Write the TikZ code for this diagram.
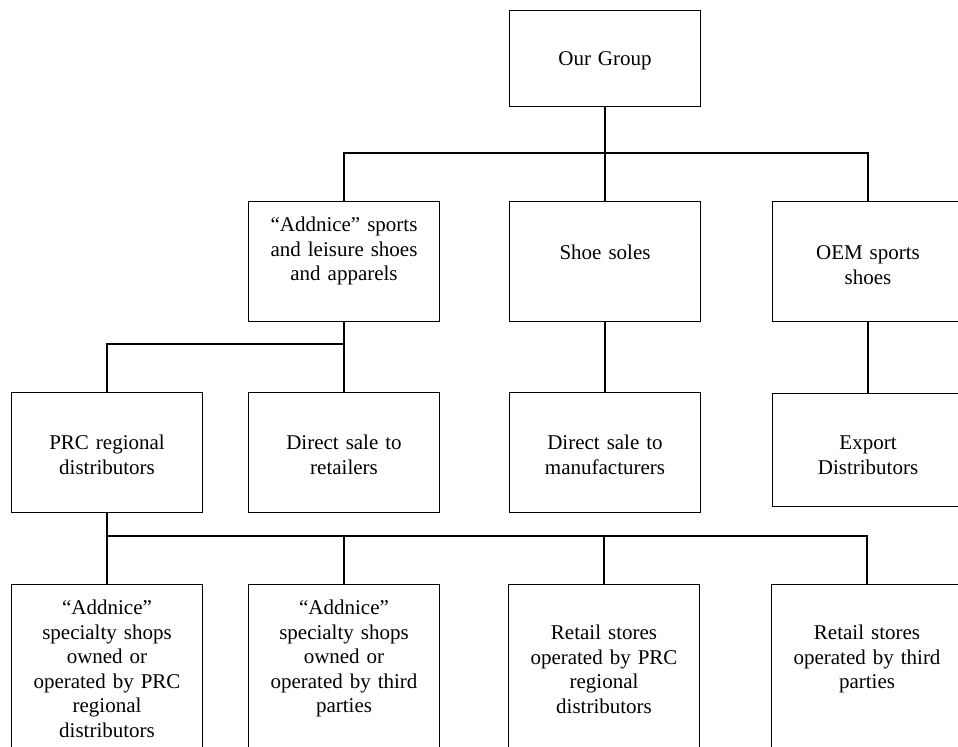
\documentclass[tikz,border=0pt]{standalone}
\usepackage{fontspec}
\setmainfont{Liberation Serif}
\usepackage{tikz}

\begin{document}
\begin{tikzpicture}[
        x=0.5pt, y=-0.5pt,
        unit/.style={rectangle, draw, line width=0.7pt, inner sep=0pt, text width=95.5pt, align=center, anchor=north, font=\fontsize{10.5}{12.25}\selectfont},
        link/.style={line width=0.7pt}
    ]
        \useasboundingbox (0,0) rectangle (958,746);
        \clip (0,0) rectangle (958,746);

        % Group node
        \node[unit, text height=27.5pt, text depth=20.5pt] (our_group) at (605,10) {Our Group};

        % Business lines
        \node[unit, text height=15pt, text depth=45pt] (addnice_goods) at (344,201) {“Addnice” sports\\and leisure shoes\\and apparels};
        \node[unit, text height=29pt, text depth=31pt] (shoe_soles) at (605,201) {Shoe soles};
        \node[unit, text height=29pt, text depth=31pt] (oem_shoes) at (868,201) {OEM sports\\shoes};

        % Sales channels
        \node[unit, text height=28.5pt, text depth=31.5pt] (prc_dist) at (107,392) {PRC regional\\distributors};
        \node[unit, text height=28.5pt, text depth=31.5pt] (direct_retail) at (344,392) {Direct sale to\\retailers};
        \node[unit, text height=28.5pt, text depth=31.5pt] (direct_mfr) at (605,392) {Direct sale to\\manufacturers};
        \node[unit, text height=28pt, text depth=28.5pt] (export_dist) at (868,393) {Export\\Distributors};

        % Outlets (cut off at the bottom)
        \node[unit, text height=15pt, text depth=75pt] (shops_prc) at (107,584) {“Addnice”\\specialty shops\\owned or\\operated by PRC\\regional\\distributors};
        \node[unit, text height=15pt, text depth=75pt] (shops_third) at (344,584) {“Addnice”\\specialty shops\\owned or\\operated by third\\parties};
        \node[unit, text height=27.5pt, text depth=62.5pt] (stores_prc) at (604,584) {Retail stores\\operated by PRC\\regional\\distributors};
        \node[unit, text height=27.5pt, text depth=62.5pt] (stores_third) at (867,584) {Retail stores\\operated by third\\parties};

        % Connections
        \coordinate (top_bus) at (605,153);
        \draw[link] (our_group.south) -- (shoe_soles.north);
        \draw[link] (addnice_goods.north) |- (top_bus) -| (oem_shoes.north);

        \coordinate (left_bus) at (344,344);
        \draw[link] (addnice_goods.south) -- (direct_retail.north);
        \draw[link] (prc_dist.north) |- (left_bus);
        \draw[link] (shoe_soles.south) -- (direct_mfr.north);
        \draw[link] (oem_shoes.south) -- (export_dist.north);

        \coordinate (low_bus) at (107,536);
        \draw[link] (prc_dist.south) -- (shops_prc.north);
        \draw[link] (low_bus) -| (shops_third.north);
        \draw[link] (low_bus) -| (stores_prc.north);
        \draw[link] (low_bus) -| (stores_third.north);

    \end{tikzpicture}
\end{document}
